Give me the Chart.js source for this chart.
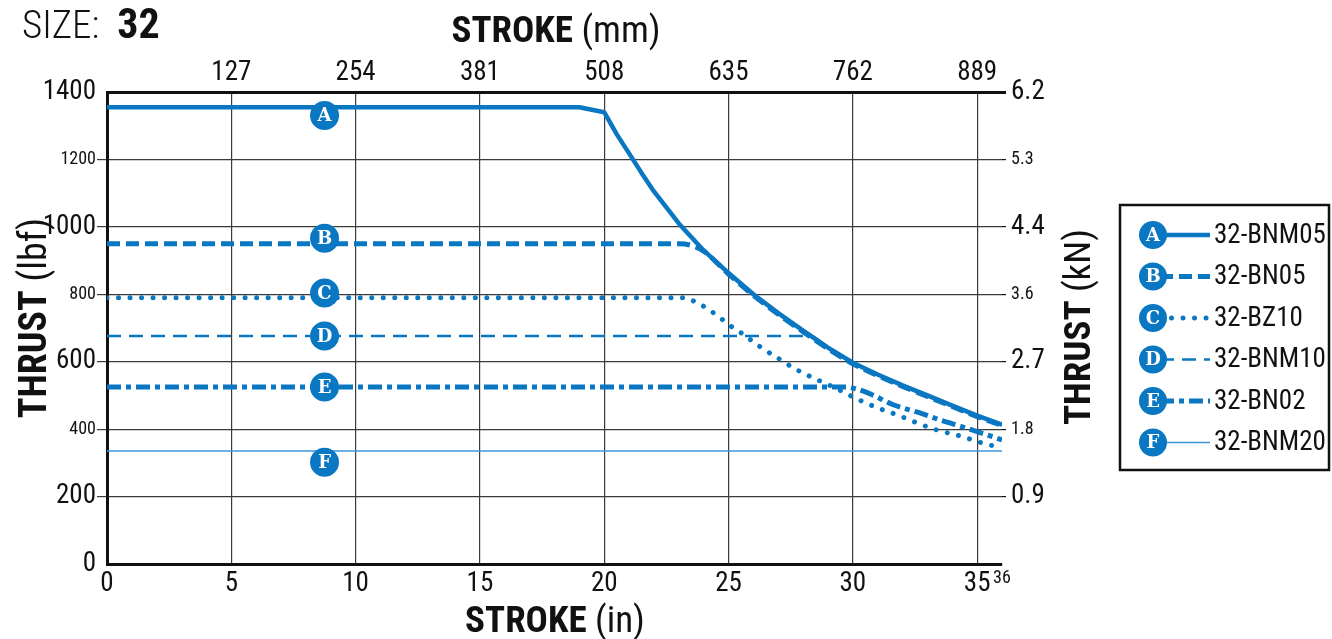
<!DOCTYPE html>
<html>
<head>
<meta charset="utf-8">
<script src="https://cdn.jsdelivr.net/npm/chart.js@4.4.1/dist/chart.umd.min.js"></script>
<style>
  html, body { margin: 0; padding: 0; background: #fff; }
  #wrap { width: 1332px; height: 639px; position: relative; }
</style>
</head>
<body>
<div id="wrap"><canvas id="chart"></canvas></div>
<script>
'use strict';

// stroke (in) / thrust (lbf)
const strokeA = [0, 19, 20, 20.5, 21, 21.5, 22, 23, 24, 25, 26, 27, 28, 29, 30, 31, 32, 33, 34, 35, 36];
const thrustA = [1355, 1355, 1340, 1275, 1218, 1160, 1105, 1010, 930, 863, 800, 744, 692, 642, 597, 562, 530, 500, 470, 440, 413];

const strokeB = [0, 23, 23.5, 24, 25, 26, 27, 28, 29, 30, 31, 32, 33, 34, 35, 36];
const thrustB = [950, 950, 945, 928, 860, 797, 741, 689, 639, 594, 559, 527, 497, 467, 437, 411];

const strokeC = [0, 23.2, 23.7, 24.2, 24.7, 25.2, 25.5, 26.2, 27, 27.7, 28.5, 29.3, 30.1, 31, 31.8, 32.6, 33.4, 34.3, 35.2, 36];
const thrustC = [790, 790, 776, 755, 728, 700, 686, 648, 610, 578, 549, 522, 492, 463, 442, 418, 397, 380, 359, 344];

const strokeD = [0, 28.3, 29, 30, 31, 32, 33, 34, 35, 36];
const thrustD = [676, 676, 640, 595, 560, 528, 498, 468, 437, 412];

const strokeE = [0, 29.7, 30.2, 30.8, 31.6, 32.7, 33.6, 34.4, 35.4, 36];
const thrustE = [525, 525, 518, 501, 473, 448, 425, 407, 383, 368];

const strokeF = [0, 36];
const thrustF = [335, 335];

const modelNames = ['32-BNM05', '32-BN05', '32-BZ10', '32-BNM10', '32-BN02', '32-BNM20'];
const markerLetters = ['A', 'B', 'C', 'D', 'E', 'F'];
const markerStroke = [8.75, 8.75, 8.75, 8.75, 8.75, 8.75];
const markerThrust = [1330, 966, 804, 676, 525, 302];

// tick labels
const strokeTicksIn = [0, 5, 10, 15, 20, 25, 30, 35, 36];
const strokeTicksMm = ['', '127', '254', '381', '508', '635', '762', '889'];
const thrustTicksLbf = [0, 200, 400, 600, 800, 1000, 1200, 1400];
const thrustTicksKn = ['', '0.9', '1.8', '2.7', '3.6', '4.4', '5.3', '6.2'];

const BLUE = '#0a77c2';
const LIGHT = '#3a98d8';
const INK = '#111';
const GRID = '#3a3a3a';
const NARROW = "'Roboto Condensed', 'DejaVu Sans Condensed', sans-serif";

const seriesStyle = [
    { width: 4.5, dash: [], cap: 'butt', color: BLUE, smooth: false },
    { width: 5, dash: [13, 6], cap: 'butt', color: BLUE, smooth: true },
    { width: 5, dash: [0.01, 11.5], cap: 'round', color: BLUE, smooth: true },
    { width: 2.5, dash: [14, 8], cap: 'butt', color: BLUE, smooth: true },
    { width: 5, dash: [14, 5, 5, 5], cap: 'butt', color: BLUE, smooth: true },
    { width: 1.6, dash: [], cap: 'butt', color: LIGHT, smooth: false },
];

const pairs = (xs, ys) => xs.map((x, i) => ({ x, y: ys[i] }));
const series = [
    pairs(strokeA, thrustA), pairs(strokeB, thrustB), pairs(strokeC, thrustC),
    pairs(strokeD, thrustD), pairs(strokeE, thrustE), pairs(strokeF, thrustF),
];

const datasets = series.map((data, i) => ({
    label: modelNames[i],
    data,
    borderColor: seriesStyle[i].color,
    borderWidth: seriesStyle[i].width,
    borderDash: seriesStyle[i].dash,
    borderCapStyle: seriesStyle[i].cap,
    borderJoinStyle: 'round',
    pointRadius: 0,
    fill: false,
    tension: 0,
    cubicInterpolationMode: seriesStyle[i].smooth ? 'monotone' : 'default',
    order: 1 + (5 - i),
}));

const MARKERS = datasets.length;
datasets.push({
    label: 'markers',
    data: pairs(markerStroke, markerThrust),
    showLine: false,
    pointRadius: 14.5,
    pointHoverRadius: 14.5,
    pointBackgroundColor: BLUE,
    pointBorderWidth: 0,
    order: 0,
});

const tickFont = (small) => ({ family: NARROW, size: small ? 18 : 27 });
const isMinorThrust = (v) => v === 400 || v === 800 || v === 1200;

function mixedText(ctx, parts, x, y, align) {
    const widths = parts.map(p => {
        ctx.font = `${p[1]} ${p[2]}px ${NARROW}`;
        return ctx.measureText(p[0]).width;
    });
    const total = widths.reduce((a, b) => a + b, 0);
    let cx = align === 'center' ? x - total / 2 : x;
    ctx.textAlign = 'left';
    parts.forEach((p, i) => {
        ctx.font = `${p[1]} ${p[2]}px ${NARROW}`;
        ctx.fillText(p[0], cx, y);
        cx += widths[i];
    });
}

function badge(ctx, letter, x, y, r) {
    ctx.beginPath();
    ctx.arc(x, y, r, 0, Math.PI * 2);
    ctx.fillStyle = BLUE;
    ctx.fill();
    ctx.fillStyle = '#fff';
    ctx.font = "bold 18px 'DejaVu Serif'";
    ctx.textAlign = 'center';
    ctx.textBaseline = 'middle';
    ctx.fillText(letter, x, y + 1);
}

const decor = {
    id: 'decor',
    afterDatasetsDraw(chart) {
        const ctx = chart.ctx;
        ctx.save();
        ctx.fillStyle = '#fff';
        ctx.font = "bold 18px 'DejaVu Serif'";
        ctx.textAlign = 'center';
        ctx.textBaseline = 'middle';
        chart.getDatasetMeta(MARKERS).data.forEach((pt, i) => {
            ctx.fillText(markerLetters[i], pt.x, pt.y + 1);
        });
        ctx.restore();
    },
    afterDraw(chart) {
        const ctx = chart.ctx;
        ctx.save();
        ctx.fillStyle = INK;
        ctx.textBaseline = 'alphabetic';
        mixedText(ctx, [['SIZE:', '300', 39], ['  ', 'normal', 39], ['32', 'bold', 42]], 22, 38, 'left');
        mixedText(ctx, [['STROKE', 'bold', 37], [' (mm)', 'normal', 37]], 556, 42, 'center');
        mixedText(ctx, [['STROKE', 'bold', 37], [' (in)', 'normal', 37]], 555, 632, 'center');

        ctx.save();
        ctx.translate(46, 318);
        ctx.rotate(-Math.PI / 2);
        mixedText(ctx, [['THRUST', 'bold', 38], [' (lbf)', 'normal', 38]], 0, 0, 'center');
        ctx.restore();

        ctx.save();
        ctx.translate(1090, 327);
        ctx.rotate(-Math.PI / 2);
        mixedText(ctx, [['THRUST', 'bold', 37], [' (kN)', 'normal', 37]], 0, 0, 'center');
        ctx.restore();

        // legend box
        ctx.lineWidth = 2.5;
        ctx.strokeStyle = INK;
        ctx.strokeRect(1120, 205, 209, 265);
        modelNames.forEach((name, i) => {
            const cy = 235 + i * 41.5;
            const st = seriesStyle[i];
            ctx.save();
            ctx.beginPath();
            ctx.moveTo(1160, cy);
            ctx.lineTo(1210, cy);
            ctx.strokeStyle = st.color;
            ctx.lineWidth = st.width;
            ctx.setLineDash(st.dash);
            ctx.lineCap = st.cap;
            ctx.stroke();
            ctx.restore();
            badge(ctx, markerLetters[i], 1153, cy, 14);
            ctx.fillStyle = INK;
            ctx.font = `27px ${NARROW}`;
            ctx.textAlign = 'left';
            ctx.textBaseline = 'middle';
            ctx.fillText(name, 1214, cy + 1);
        });
        ctx.restore();
    }
};

new Chart(document.getElementById('chart'), {
    type: 'line',
    data: { datasets },
    options: {
        responsive: true,
        maintainAspectRatio: false,
        animation: false,
        events: [],
        layout: { padding: 0 },
        plugins: { legend: { display: false }, tooltip: { enabled: false } },
        scales: {
            x: {
                type: 'linear', position: 'bottom', min: 0, max: 36,
                afterBuildTicks: s => { s.ticks = strokeTicksIn.map(v => ({ value: v })); },
                afterFit: s => { s.height = 75; },
                ticks: {
                    color: INK, padding: 4, maxRotation: 0, autoSkip: false,
                    font: c => tickFont(c.tick && c.tick.value === 36),
                    callback: (v, i) => String(strokeTicksIn[i]),
                },
                grid: {
                    drawTicks: false,
                    color: c => (c.tick && (c.tick.value === 0 || c.tick.value === 36)) ? 'rgba(0,0,0,0)' : GRID,
                    lineWidth: 1.2,
                },
                border: { display: true, color: INK, width: 3 },
            },
            x2: {
                type: 'linear', position: 'top', min: 0, max: 36,
                afterBuildTicks: s => { s.ticks = strokeTicksIn.slice(0, 8).map(v => ({ value: v })); },
                afterFit: s => { s.height = 92; },
                ticks: {
                    color: INK, padding: 3, maxRotation: 0, autoSkip: false,
                    font: tickFont(false),
                    callback: (v, i) => strokeTicksMm[i],
                },
                grid: { display: false, drawTicks: false },
                border: { display: true, color: INK, width: 3 },
            },
            y: {
                type: 'linear', position: 'left', min: 0, max: 1400,
                afterBuildTicks: s => { s.ticks = thrustTicksLbf.map(v => ({ value: v })); },
                afterFit: s => { s.width = 107; },
                ticks: {
                    color: INK, padding: 1, autoSkip: false,
                    font: c => tickFont(c.tick && isMinorThrust(c.tick.value)),
                    callback: (v, i) => String(thrustTicksLbf[i]),
                },
                grid: {
                    drawTicks: true, tickLength: 10,
                    color: c => (c.tick && (c.tick.value === 0 || c.tick.value === 1400)) ? 'rgba(0,0,0,0)' : GRID,
                    lineWidth: 1.2,
                },
                border: { display: true, color: INK, width: 3 },
            },
            y2: {
                type: 'linear', position: 'right', min: 0, max: 1400,
                afterBuildTicks: s => { s.ticks = thrustTicksLbf.map(v => ({ value: v })); },
                afterFit: s => { s.width = 330; },
                ticks: {
                    color: INK, padding: 5, autoSkip: false,
                    font: c => tickFont(c.tick && isMinorThrust(c.tick.value)),
                    callback: (v, i) => thrustTicksKn[i],
                },
                grid: {
                    drawOnChartArea: false, drawTicks: true, tickLength: 4,
                    color: c => (c.tick && c.tick.value === 0) ? 'rgba(0,0,0,0)' : INK,
                    lineWidth: c => (c.tick && c.tick.value === 1400) ? 3 : 1.2,
                },
                border: { display: false },
            },
        },
    },
    plugins: [decor],
});
</script>
</body>
</html>
